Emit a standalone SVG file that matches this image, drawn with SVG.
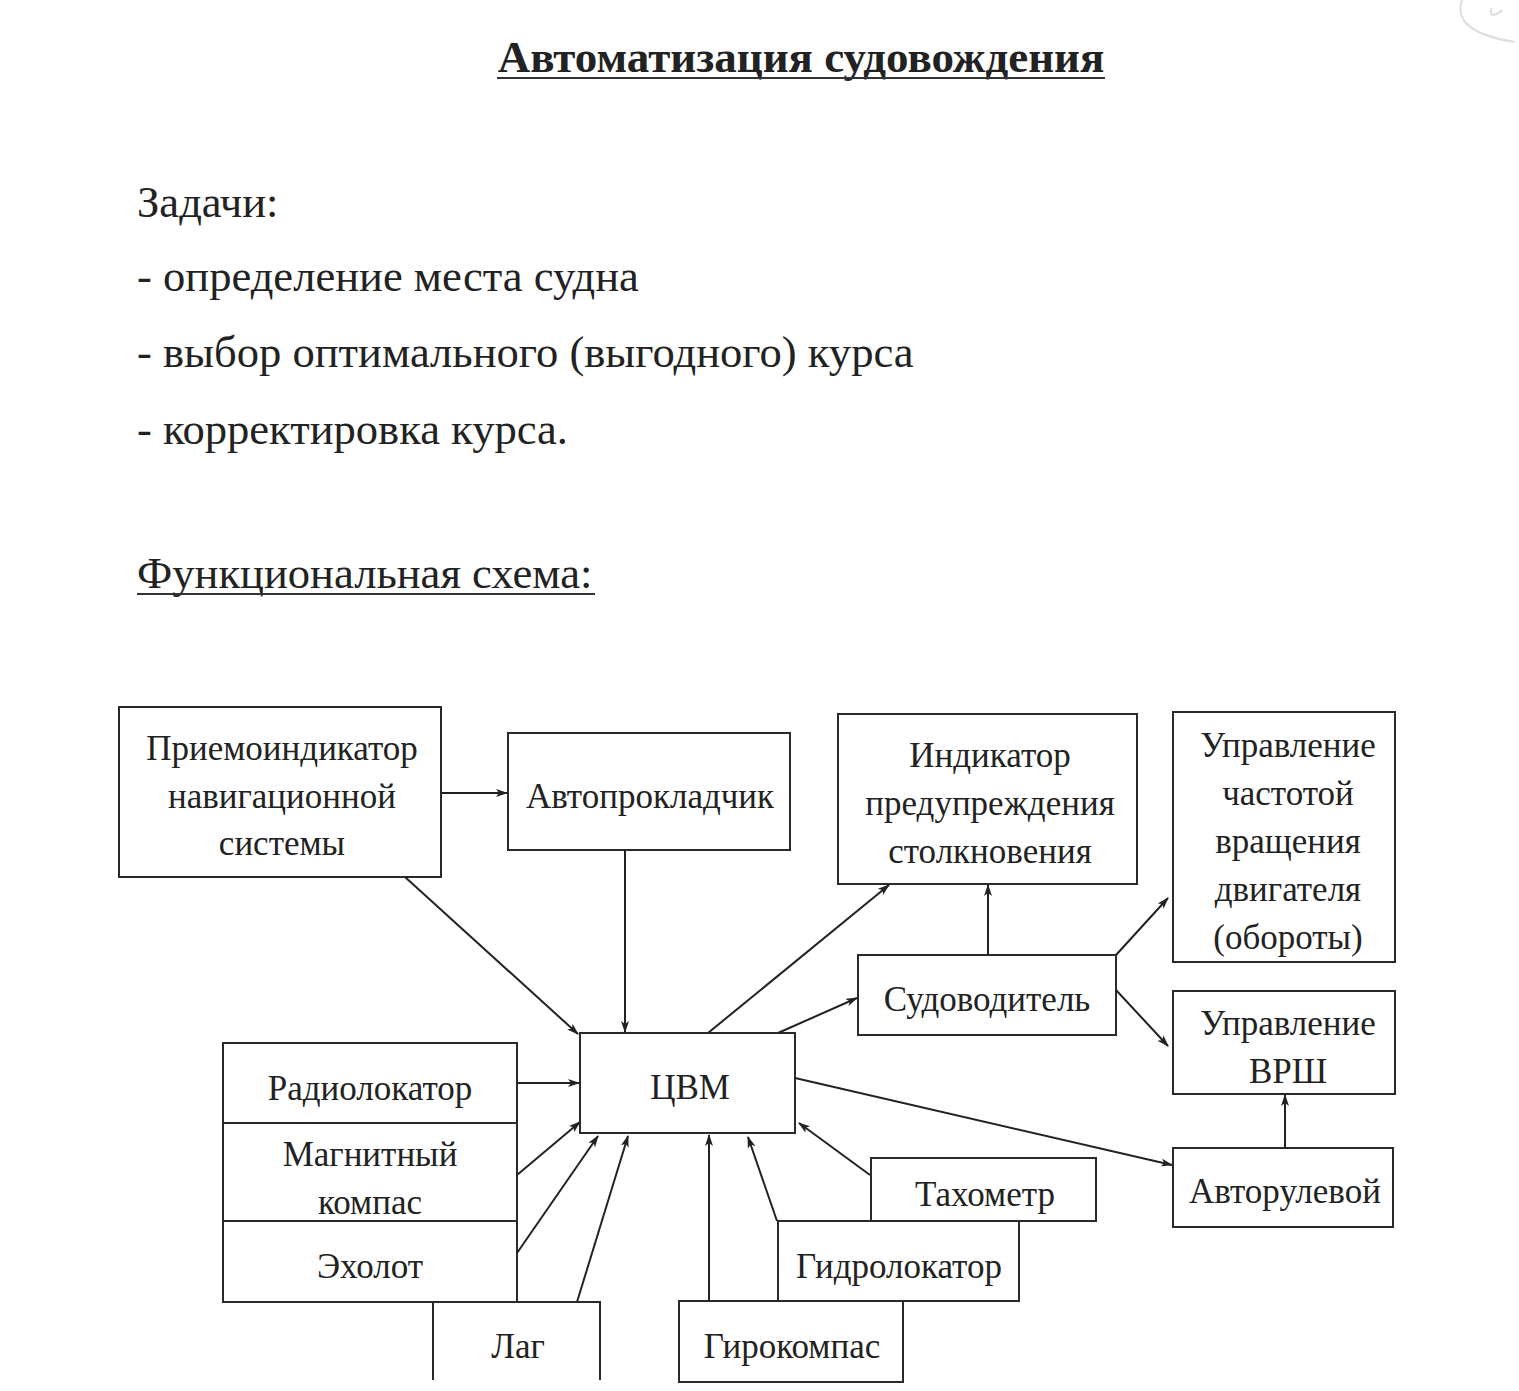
<svg xmlns="http://www.w3.org/2000/svg" width="1519" height="1391" viewBox="0 0 1519 1391">
<style>
.bg{fill:#fff}
.box{fill:none;stroke:#2a2a2a;stroke-width:2}
.t{font-family:"Liberation Serif","Times New Roman",serif;font-size:35px;fill:#222;text-anchor:middle}
.h{font-family:"Liberation Serif","Times New Roman",serif;font-size:44.6px;fill:#222}
.title{font-family:"Liberation Serif","Times New Roman",serif;font-size:45px;font-weight:bold;fill:#222;text-anchor:middle}
.c{stroke:#222;stroke-width:2;fill:none;marker-end:url(#ah)}
.u{stroke:#333;stroke-width:2}
</style>
<defs>
<marker id="ah" viewBox="0 0 12 8" refX="11" refY="4" markerWidth="12" markerHeight="8" markerUnits="userSpaceOnUse" orient="auto">
<path d="M0,0 L12,4 L0,8 L3,4 z" fill="#222"/>
</marker>
</defs>
<rect class="bg" x="0" y="0" width="1519" height="1391"/>
<path d="M1462,0 C1455,20 1470,35 1515,42 M1492,8 C1488,15 1494,18 1502,10" fill="none" stroke="#ddd" stroke-width="2"/>

<g id="header">
<text class="title" x="801" y="72">Автоматизация судовождения</text>
<line class="u" x1="497" y1="78" x2="1105" y2="78"/>
<text class="h" x="137" y="217">Задачи:</text>
<text class="h" x="137" y="291">- определение места судна</text>
<text class="h" x="137" y="367">- выбор оптимального (выгодного) курса</text>
<text class="h" x="137" y="444">- корректировка курса.</text>
<text class="h" x="137" y="588">Функциональная схема:</text>
<line class="u" x1="137" y1="594" x2="595" y2="594"/>
</g>

<g id="n-priemoindikator">
<rect class="box" x="119" y="707" width="322" height="170"/>
<text class="t" x="282" y="760">Приемоиндикатор</text>
<text class="t" x="282" y="808">навигационной</text>
<text class="t" x="282" y="855">системы</text>
</g>
<g id="n-avtoprokladchik">
<rect class="box" x="508" y="733" width="282" height="117"/>
<text class="t" x="650" y="808">Автопрокладчик</text>
</g>
<g id="n-indikator">
<rect class="box" x="838" y="714" width="299" height="170"/>
<text class="t" x="990" y="767">Индикатор</text>
<text class="t" x="990" y="815">предупреждения</text>
<text class="t" x="990" y="863">столкновения</text>
</g>
<g id="n-upr-chastotoy">
<rect class="box" x="1173" y="712" width="222" height="250"/>
<text class="t" x="1288" y="757">Управление</text>
<text class="t" x="1288" y="805">частотой</text>
<text class="t" x="1288" y="853">вращения</text>
<text class="t" x="1288" y="901">двигателя</text>
<text class="t" x="1288" y="949">(обороты)</text>
</g>
<g id="n-sudovoditel">
<rect class="box" x="858" y="955" width="258" height="80"/>
<text class="t" x="987" y="1011">Судоводитель</text>
</g>
<g id="n-upr-vrsh">
<rect class="box" x="1173" y="991" width="222" height="103"/>
<text class="t" x="1288" y="1035">Управление</text>
<text class="t" x="1288" y="1083">ВРШ</text>
</g>
<g id="n-cvm">
<rect class="box" x="580" y="1033" width="215" height="100"/>
<text class="t" x="690" y="1099">ЦВМ</text>
</g>
<g id="n-radiolokator">
<rect class="box" x="223" y="1043" width="294" height="80"/>
<text class="t" x="370" y="1100">Радиолокатор</text>
</g>
<g id="n-magnitny-kompas">
<rect class="box" x="223" y="1123" width="294" height="98"/>
<text class="t" x="370" y="1166">Магнитный</text>
<text class="t" x="370" y="1214">компас</text>
</g>
<g id="n-eholot">
<rect class="box" x="223" y="1221" width="294" height="81"/>
<text class="t" x="370" y="1278">Эхолот</text>
</g>
<g id="n-lag">
<path class="box" d="M433,1380 L433,1302 L600,1302 L600,1380"/>
<text class="t" x="518" y="1358">Лаг</text>
</g>
<g id="n-girokompas">
<rect class="box" x="679" y="1301" width="224" height="81"/>
<text class="t" x="792" y="1358">Гирокомпас</text>
</g>
<g id="n-gidrolokator">
<rect class="box" x="778" y="1221" width="241" height="80"/>
<text class="t" x="899" y="1278">Гидролокатор</text>
</g>
<g id="n-tahometr">
<rect class="box" x="871" y="1158" width="225" height="63"/>
<text class="t" x="985" y="1206">Тахометр</text>
</g>
<g id="n-avtorulevoy">
<rect class="box" x="1173" y="1148" width="220" height="79"/>
<text class="t" x="1285" y="1203">Авторулевой</text>
</g>

<g id="connectors">
<line class="c" x1="441" y1="793" x2="507" y2="793"/>
<line class="c" x1="405" y1="877" x2="578" y2="1034"/>
<line class="c" x1="625" y1="850" x2="625" y2="1032"/>
<line class="c" x1="708" y1="1033" x2="889" y2="885"/>
<line class="c" x1="778" y1="1033" x2="857" y2="998"/>
<line class="c" x1="988" y1="955" x2="988" y2="885"/>
<line class="c" x1="1116" y1="955" x2="1168" y2="898"/>
<line class="c" x1="1116" y1="990" x2="1168" y2="1046"/>
<line class="c" x1="795" y1="1078" x2="1172" y2="1165"/>
<line class="c" x1="1285" y1="1148" x2="1285" y2="1095"/>
<line class="c" x1="517" y1="1083" x2="579" y2="1083"/>
<line class="c" x1="517" y1="1175" x2="580" y2="1122"/>
<line class="c" x1="517" y1="1253" x2="598" y2="1136"/>
<line class="c" x1="577" y1="1302" x2="628" y2="1136"/>
<line class="c" x1="709" y1="1301" x2="709" y2="1135"/>
<line class="c" x1="777" y1="1221" x2="748" y2="1137"/>
<line class="c" x1="870" y1="1175" x2="799" y2="1123"/>
</g>
</svg>
